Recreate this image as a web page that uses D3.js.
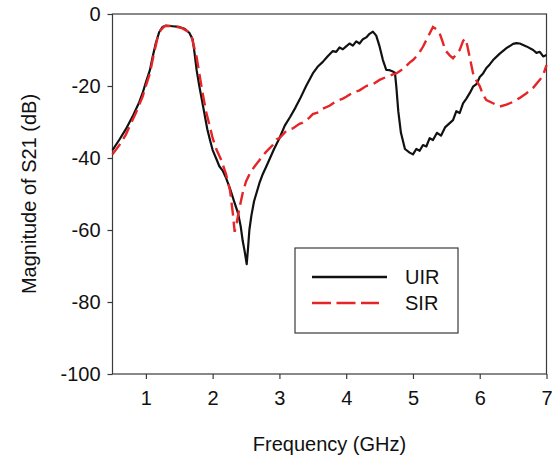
<!DOCTYPE html>
<html>
<head>
<meta charset="utf-8">
<script src="https://cdn.jsdelivr.net/npm/d3@7/dist/d3.min.js"></script>
<style>
  body { margin: 0; background: #fff; }
  svg text { font-family: "Liberation Sans", Arial, sans-serif; fill: #111; }
</style>
</head>
<body>
<svg width="560" height="461"></svg>
<script>
// Frequency (GHz) and |S21| (dB)
const uirFreq = [0.5, 0.6, 0.7, 0.8, 0.9, 0.95, 1.0, 1.06, 1.1, 1.15, 1.2, 1.25, 1.3, 1.4, 1.5, 1.58, 1.65, 1.7, 1.73, 1.76,
  1.8, 1.84, 1.88, 1.92, 1.96, 2.0, 2.05, 2.1, 2.15, 2.2, 2.26, 2.32, 2.38, 2.42, 2.45, 2.48, 2.51, 2.53, 2.55, 2.58,
  2.62, 2.66, 2.7, 2.75, 2.8, 2.86, 2.92, 3.0, 3.08, 3.16, 3.24, 3.31, 3.4, 3.5, 3.58, 3.65, 3.72, 3.8, 3.85, 3.9,
  3.95, 4.0, 4.05, 4.1, 4.15, 4.2, 4.25, 4.3, 4.35, 4.4, 4.45, 4.5, 4.55, 4.6, 4.65, 4.7, 4.73, 4.75, 4.78, 4.82,
  4.88, 4.95, 5.0, 5.05, 5.1, 5.15, 5.2, 5.25, 5.3, 5.36, 5.42, 5.48, 5.55, 5.6, 5.65, 5.7, 5.75, 5.8, 5.85, 5.9,
  5.95, 6.0, 6.05, 6.1, 6.15, 6.2, 6.3, 6.4, 6.5, 6.55, 6.6, 6.7, 6.8, 6.85, 6.9, 6.95, 7.0];
const uirDb = [-37.8, -35, -32, -28.5, -24.5, -22, -19, -15.6, -12, -8, -5, -3.6, -3.2, -3.4, -3.6, -4.1, -5.2, -7, -11, -15.6,
  -20, -24, -28, -32, -35, -37.8, -40, -42.3, -43.5, -45.5, -48.5, -52, -55.3, -59, -63, -66, -69.5, -65, -60, -56,
  -52, -49.5, -47, -44.5, -42.5, -40, -37.5, -34.5, -31, -28.6, -26, -23.5, -20, -16.5, -14.5, -13.3, -11.8, -10.3, -10.5, -9.3,
  -9.8, -9, -8.2, -8.8, -7.6, -8.2, -7, -6.5, -5.5, -4.9, -6, -9, -12.8, -15.5, -15.6, -16, -16.3, -20, -27, -33,
  -37.5, -38.5, -39, -37.5, -38, -36.4, -36.8, -34.5, -35, -33, -33.8, -31.5, -30.3, -29.5, -27, -27.5, -24.8, -23.5, -22, -20.2,
  -19.5, -17.5, -16.5, -15, -14, -12.8, -11, -9.5, -8.3, -8.1, -8.2, -9, -10, -10.8, -10.5, -11.8, -11.4];

const sirFreq = [0.5, 0.6, 0.7, 0.76, 0.85, 0.95, 1.0, 1.06, 1.12, 1.17, 1.22, 1.28, 1.35, 1.45, 1.55, 1.62, 1.68, 1.72, 1.76, 1.8,
  1.85, 1.9, 1.96, 2.0, 2.06, 2.13, 2.2, 2.26, 2.3, 2.33, 2.36, 2.4, 2.45, 2.5, 2.56, 2.63, 2.7, 2.8, 2.9, 2.96,
  3.0, 3.1, 3.2, 3.3, 3.35, 3.45, 3.5, 3.6, 3.65, 3.75, 3.85, 3.95, 4.0, 4.1, 4.2, 4.3, 4.4, 4.5, 4.6, 4.7,
  4.75, 4.85, 4.95, 5.0, 5.08, 5.15, 5.22, 5.3, 5.35, 5.4, 5.45, 5.48, 5.55, 5.6, 5.65, 5.7, 5.75, 5.78, 5.81, 5.85,
  5.9, 5.95, 6.0, 6.05, 6.1, 6.2, 6.3, 6.4, 6.5, 6.6, 6.7, 6.8, 6.9, 6.95, 7.0];
const sirDb = [-39, -36.5, -33.5, -31, -27.5, -23, -20, -16.5, -11, -7, -4.5, -3.4, -3.3, -3.5, -4, -4.8, -6, -9, -12, -16.5,
  -22, -27, -31.4, -34.5, -37.8, -40.6, -44.5, -49, -55, -60.5, -58, -54, -49.7, -46.5, -44.2, -42.3, -40.6, -38.3, -36.4, -34.8,
  -34.5, -32.5, -31.8, -30.5, -30.2, -28.8, -27.8, -27.2, -26.3, -25.5, -24.2, -23.5, -23, -21.8, -21.2, -20, -19.5, -18.3, -17.5, -16.8,
  -16.5, -15.3, -13.5, -12.8, -11.2, -9.1, -6.5, -3.6, -4.2, -5.4, -8, -10, -11.5, -12.3, -11.2, -10, -7.5, -6.8, -8.5, -12,
  -16.5, -18.5, -20, -22.5, -23.9, -24.8, -25.7, -25.2, -24.4, -23.3, -22, -20.5, -18.3, -17, -14.2];

const xTicks = [1, 2, 3, 4, 5, 6, 7];
const yTicks = [0, -20, -40, -60, -80, -100];
const seriesNames = ["UIR", "SIR"];

const svg = d3.select("svg");
const margin = { left: 112.5, right: 13.5, top: 14, bottom: 87 };
const width = 560 - margin.left - margin.right;
const height = 461 - margin.top - margin.bottom;

const x = d3.scaleLinear().domain([0.5, 7]).range([0, width]);
const y = d3.scaleLinear().domain([-100, 0]).range([height, 0]);

const g = svg.append("g").attr("transform", `translate(${margin.left},${margin.top})`);

// frame
g.append("rect")
  .attr("width", width).attr("height", height)
  .attr("fill", "none").attr("stroke", "#3a3a3a").attr("stroke-width", 1.2);

// axes - plain hyphen for negatives like the original
const xAxis = g.append("g")
  .attr("transform", `translate(0,${height})`)
  .call(d3.axisBottom(x).tickValues(xTicks).tickFormat(d => String(d)).tickSize(5).tickPadding(12));
const yAxis = g.append("g")
  .call(d3.axisLeft(y).tickValues(yTicks).tickFormat(d => String(d)).tickSize(5).tickPadding(7));

[xAxis, yAxis].forEach(a => {
  a.select(".domain").remove();
  a.selectAll(".tick line").attr("stroke", "#3a3a3a").attr("stroke-width", 1.2);
  a.selectAll(".tick text").attr("font-size", 20).attr("fill", "#111");
});

// curves
const line = d3.line().x(d => x(d[0])).y(d => y(d[1]));
const uirData = uirFreq.map((f, i) => [f, uirDb[i]]);
const sirData = sirFreq.map((f, i) => [f, sirDb[i]]);

g.append("path").datum(uirData)
  .attr("d", line)
  .attr("fill", "none").attr("stroke", "#111").attr("stroke-width", 2.2)
  .attr("stroke-linejoin", "round");

g.append("path").datum(sirData)
  .attr("d", line)
  .attr("fill", "none").attr("stroke", "#e52528").attr("stroke-width", 2.4)
  .attr("stroke-dasharray", "13,6");

// axis titles
svg.append("text")
  .attr("x", margin.left + width / 2).attr("y", 451)
  .attr("text-anchor", "middle").attr("font-size", 20)
  .text("Frequency (GHz)");

svg.append("text")
  .attr("transform", "translate(36,194) rotate(-90)")
  .attr("text-anchor", "middle").attr("font-size", 20)
  .text("Magnitude of S21 (dB)");

// legend
const legend = svg.append("g").attr("transform", "translate(295,248)");
legend.append("rect")
  .attr("width", 163).attr("height", 85)
  .attr("fill", "#fff").attr("stroke", "#3a3a3a").attr("stroke-width", 1.2);

const legendStyles = [
  { color: "#111", dash: null, w: 2.6, x2: 92 },
  { color: "#e52528", dash: "19,5.5", w: 2.6, x2: 84 }
];
seriesNames.forEach((name, i) => {
  const ly = 29 + i * 26;
  legend.append("line")
    .attr("x1", 17).attr("x2", legendStyles[i].x2).attr("y1", ly).attr("y2", ly)
    .attr("stroke", legendStyles[i].color).attr("stroke-width", legendStyles[i].w)
    .attr("stroke-dasharray", legendStyles[i].dash);
  legend.append("text")
    .attr("x", 110).attr("y", ly).attr("dy", "0.36em")
    .attr("font-size", 20)
    .text(name);
});
</script>
</body>
</html>
